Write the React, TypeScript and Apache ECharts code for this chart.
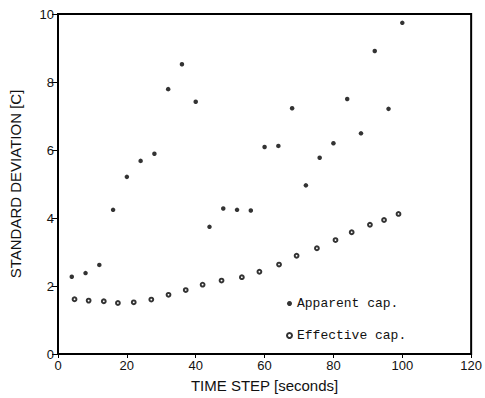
import React, { useEffect, useRef } from "react";
import * as echarts from "echarts";

// Time step (s) and standard deviation (C) for the apparent capacitance
const apparentTime = [4, 8, 12, 16, 20, 24, 28, 32, 36, 40, 44, 48, 52, 56, 60, 64, 68, 72, 76, 80, 84, 88, 92, 96, 100];
const apparentStd = [2.27, 2.38, 2.62, 4.24, 5.21, 5.68, 5.89, 7.79, 8.52, 7.42, 3.74, 4.28, 4.24, 4.22, 6.09, 6.12, 7.23, 4.96, 5.77, 6.2, 7.5, 6.49, 8.91, 7.21, 9.74];

// Time step (s) and standard deviation (C) for the effective capacitance
const effectiveTime = [4.8, 8.9, 13.3, 17.4, 22, 27.1, 32.1, 37.1, 42, 47.5, 53.4, 58.5, 64.2, 69.3, 75.2, 80.6, 85.3, 90.6, 94.7, 98.9];
const effectiveStd = [1.61, 1.57, 1.55, 1.5, 1.52, 1.6, 1.74, 1.88, 2.04, 2.16, 2.26, 2.42, 2.63, 2.89, 3.11, 3.35, 3.58, 3.8, 3.94, 4.12];

const seriesNames = ["Apparent cap.", "Effective cap."];

const sans = "'Liberation Sans', Arial, sans-serif";
const mono = "'Liberation Mono', 'Courier New', monospace";

export default function App() {
  const ref = useRef<HTMLDivElement>(null);

  useEffect(() => {
    if (!ref.current) return;
    const chart = echarts.init(ref.current, undefined, { renderer: "svg" });
    const tickLabel = { color: "#111", fontFamily: sans, fontSize: 13, margin: 5 };
    chart.setOption({
      animation: false,
      backgroundColor: "#fff",
      grid: {
        left: 58,
        right: 7,
        top: 14,
        bottom: 44,
        show: true,
        borderColor: "#000",
        borderWidth: 2,
      },
      legend: {
        orient: "vertical",
        left: 281,
        top: 292,
        itemWidth: 5,
        itemHeight: 5,
        itemGap: 19,
        textStyle: { fontFamily: mono, fontSize: 13, color: "#111", padding: [0, 0, 0, 0] },
        data: [
          { name: seriesNames[0], icon: "circle" },
          { name: seriesNames[1], icon: "emptyCircle", itemStyle: { borderWidth: 1 } },
        ],
      },
      xAxis: {
        type: "value",
        min: 0,
        max: 120,
        interval: 20,
        name: "TIME STEP [seconds]",
        nameLocation: "middle",
        nameGap: 24,
        nameTextStyle: { fontFamily: sans, fontSize: 15, color: "#111" },
        axisLine: { show: true, lineStyle: { color: "#000", width: 2 } },
        axisTick: { show: true, length: 4, lineStyle: { color: "#000", width: 1 } },
        axisLabel: tickLabel,
        splitLine: { show: false },
      },
      yAxis: {
        type: "value",
        min: 0,
        max: 10,
        interval: 2,
        name: "STANDARD DEVIATION [C]",
        nameLocation: "middle",
        nameGap: 35,
        nameTextStyle: { fontFamily: sans, fontSize: 15, color: "#111" },
        axisLine: { show: true, lineStyle: { color: "#000", width: 2 } },
        axisTick: { show: true, length: 6, lineStyle: { color: "#000", width: 1 } },
        axisLabel: { ...tickLabel, margin: 4 },
        splitLine: { show: false },
      },
      series: [
        {
          name: seriesNames[0],
          type: "scatter",
          symbol: "circle",
          symbolSize: 4.5,
          itemStyle: { color: "#000" },
          data: apparentTime.map((t, i) => [t, apparentStd[i]]),
        },
        {
          name: seriesNames[1],
          type: "scatter",
          symbol: "emptyCircle",
          symbolSize: 3.8,
          itemStyle: { color: "#000", borderColor: "#000", borderWidth: 1.3 },
          data: effectiveTime.map((t, i) => [t, effectiveStd[i]]),
        },
      ],
    });
    return () => chart.dispose();
  }, []);

  return <div ref={ref} style={{ width: 485, height: 398, position: "absolute", left: 0, top: 0 }} />;
}
